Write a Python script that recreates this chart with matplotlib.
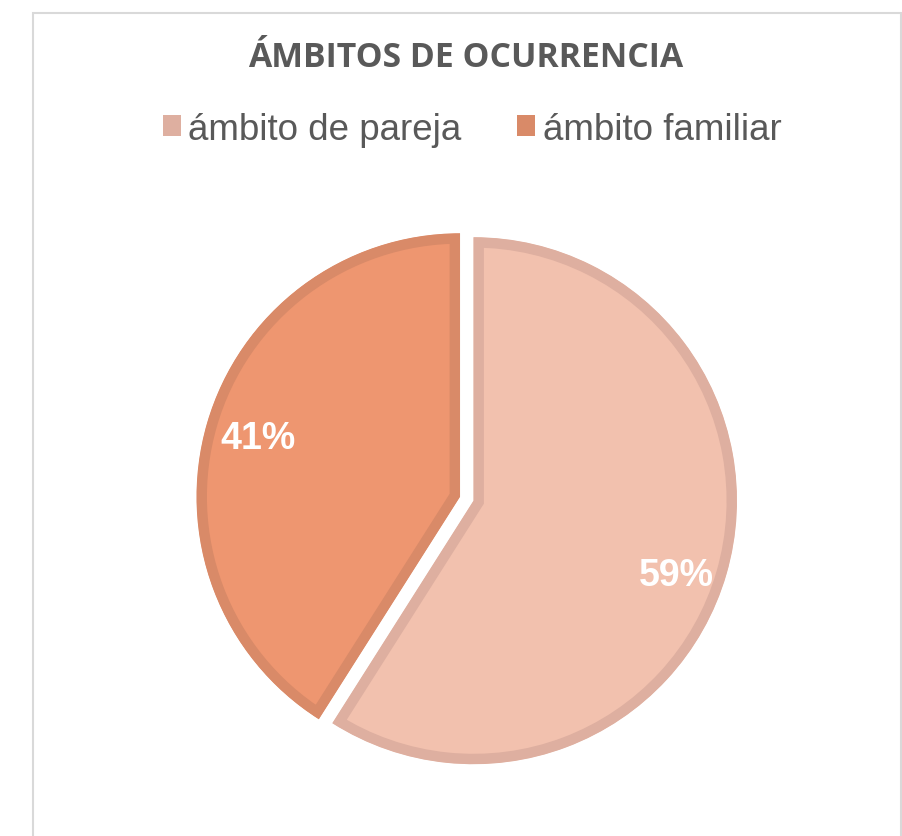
import matplotlib.pyplot as plt
from matplotlib.patches import Patch, Rectangle

W, H = 902, 837

categories = ["ámbito de pareja", "ámbito familiar"]
shares = [59, 41]
fill_colors = ["#F2C1AE", "#EE9670"]
edge_colors = ["#DEAFA0", "#D98A68"]
title = "ÁMBITOS DE OCURRENCIA"

fig = plt.figure(figsize=(W / 100, H / 100), dpi=100)
fig.patch.set_facecolor("white")

# chart area border (open at the bottom, as in the screenshot)
fig.add_artist(Rectangle((33 / W, -0.05), (901 - 33) / W, 1.05 - 14 / H,
                         transform=fig.transFigure, fill=False,
                         edgecolor="#D9D9D9", linewidth=1.5))

ax = fig.add_axes([0, 0, 1, 1])

radius = 263.5
center = (466.75, H - 499.75)
wedges, texts, autotexts = ax.pie(
    shares,
    colors=fill_colors,
    startangle=90,
    counterclock=False,
    explode=[7, 7],  # data units == pixels here
    radius=radius,
    center=center,
    autopct="%.0f%%",
    pctdistance=0.80,
    textprops={"color": "white", "fontsize": 27, "fontweight": "bold",
               "family": "Liberation Sans"},
)

# border drawn inside the slice: double width, clipped to the slice itself
for w, ec in zip(wedges, edge_colors):
    w.set_edgecolor(ec)
    w.set_linewidth(15)
    w.set_joinstyle("miter")
    w.set_clip_on(True)
    w.set_clip_path(w)

# Excel put the 59% label a bit lower than the bisector
x0, y0 = autotexts[0].get_position()
autotexts[0].set_position((x0, y0 - 15))

ax.set_xlim(0, W)
ax.set_ylim(0, H)
ax.set_aspect("equal")
ax.axis("off")

fig.text(466 / W, 1 - 58 / H, title, ha="center", va="center",
         fontsize=24.3, fontweight="bold", color="#595959", family="Open Sans")

handles = [Patch(facecolor=c, edgecolor="none") for c in edge_colors]
fig.legend(handles, categories, loc="center", bbox_to_anchor=(472 / W, 1 - 130 / H),
           ncol=2, frameon=False, handlelength=0.5, handleheight=0.5,
           handletextpad=0.2, columnspacing=1.5,
           prop={"family": "Liberation Sans", "size": 26.5}, labelcolor="#595959")

fig.savefig("out.png", dpi=100)
